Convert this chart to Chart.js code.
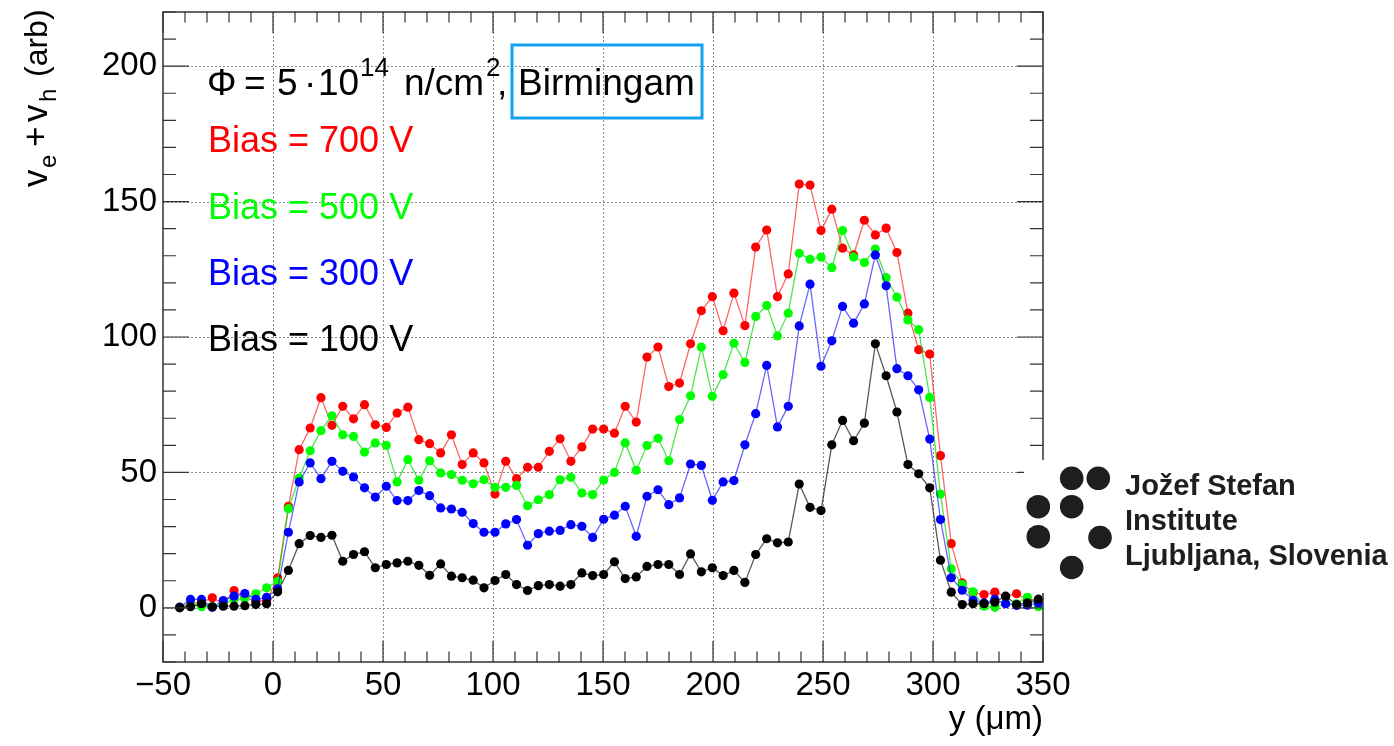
<!DOCTYPE html>
<html>
<head>
<meta charset="utf-8">
<script src="https://cdn.jsdelivr.net/npm/chart.js@4.4.1/dist/chart.umd.min.js"></script>
<style>
html,body{margin:0;padding:0;background:#fff;overflow:hidden}
canvas{display:block}
</style>
</head>
<body>
<canvas id="c" width="1394" height="746"></canvas>
<script>
// ---- data ----
const positions = [-42.4, -37.5, -32.5, -27.6, -22.6, -17.7, -12.8, -7.8, -2.9, 2.1,
  7.0, 11.9, 16.9, 21.8, 26.8, 31.7, 36.6, 41.6, 46.5, 51.5,
  56.4, 61.3, 66.3, 71.2, 76.2, 81.1, 86.0, 91.0, 95.9, 100.9,
  105.8, 110.7, 115.7, 120.6, 125.6, 130.5, 135.4, 140.4, 145.3, 150.3,
  155.2, 160.1, 165.1, 170.0, 175.0, 179.9, 184.8, 189.8, 194.7, 199.7,
  204.6, 209.5, 214.5, 219.4, 224.4, 229.3, 234.2, 239.2, 244.1, 249.1,
  254.0, 258.9, 263.9, 268.8, 273.8, 278.7, 283.6, 288.6, 293.5, 298.5,
  303.4, 308.3, 313.3, 318.2, 323.2, 328.1, 333.0, 338.0, 342.9, 347.9];

const bias700 = [0.3, 1.5, 2.0, 3.7, 1.5, 6.4, 3.9, 2.3, 2.7, 11.1,
  37.5, 58.4, 66.4, 77.6, 67.4, 74.4, 69.8, 75.0, 67.6, 66.6,
  71.9, 74.1, 62.1, 60.6, 57.2, 63.9, 52.9, 57.2, 53.5, 42.0,
  54.1, 47.7, 51.9, 51.9, 57.8, 62.4, 54.1, 59.4, 66.0, 66.0,
  64.5, 74.4, 68.6, 92.6, 96.3, 81.7, 83.0, 97.5, 109.7, 114.9,
  102.3, 116.2, 104.2, 133.2, 139.5, 114.9, 123.3, 156.5, 156.1, 139.3,
  147.2, 132.8, 130.3, 143.1, 137.7, 140.2, 131.2, 108.8, 95.3, 93.7,
  56.2, 23.7, 9.2, 5.6, 4.9, 5.8, 4.2, 5.2, 3.0, 3.0];

const bias500 = [0.2, 1.2, 0.4, 0.4, 1.2, 3.1, 3.5, 5.2, 7.4, 9.8,
  36.6, 47.9, 58.0, 65.4, 70.9, 63.9, 63.3, 57.5, 60.9, 60.0,
  46.5, 54.7, 47.1, 54.3, 49.8, 49.2, 47.1, 45.8, 47.3, 44.5,
  44.5, 45.2, 37.7, 39.9, 41.8, 47.3, 48.2, 42.4, 41.8, 47.2,
  50.0, 60.9, 50.8, 59.9, 62.6, 54.3, 69.5, 78.3, 96.3, 78.1,
  86.1, 97.7, 90.6, 107.6, 111.6, 100.4, 108.8, 130.9, 128.7, 129.5,
  125.6, 139.3, 129.5, 127.5, 132.5, 121.9, 114.7, 106.3, 102.7, 77.7,
  42.0, 14.4, 8.6, 5.9, 0.6, 0.2, 1.6, 1.5, 4.0, 0.4];

const bias300 = [0.2, 3.1, 3.1, 0.2, 2.7, 4.3, 5.3, 3.1, 3.9, 7.0,
  27.9, 46.5, 53.5, 47.7, 54.1, 50.4, 48.3, 44.3, 40.9, 44.9,
  39.6, 39.6, 43.3, 41.4, 36.9, 36.5, 35.3, 31.1, 27.9, 27.9,
  31.0, 32.6, 23.1, 27.4, 28.3, 28.6, 30.7, 30.1, 26.0, 32.7,
  34.2, 37.5, 26.4, 41.2, 43.6, 38.1, 40.6, 53.1, 52.6, 39.7,
  46.5, 47.0, 60.2, 71.7, 89.5, 66.8, 74.4, 104.1, 119.5, 89.2,
  98.6, 111.3, 105.1, 112.2, 130.3, 118.9, 88.3, 85.7, 80.5, 62.3,
  32.6, 11.1, 6.5, 2.8, 1.8, 3.1, 1.5, 0.9, 1.0, 1.8];

const bias100 = [0.0, 0.4, 1.5, 0.4, 0.6, 0.6, 0.8, 1.2, 1.5, 5.9,
  13.8, 23.7, 26.7, 26.0, 26.8, 17.2, 19.7, 20.7, 14.8, 16.0,
  16.6, 17.2, 15.7, 12.0, 16.2, 11.7, 11.1, 10.2, 7.4, 10.1,
  12.3, 8.6, 6.4, 8.2, 8.6, 8.0, 8.6, 12.9, 11.9, 12.3,
  17.0, 10.8, 11.4, 15.3, 16.0, 16.0, 12.3, 19.9, 13.3, 14.8,
  11.9, 13.8, 9.4, 19.7, 25.5, 24.0, 24.3, 45.7, 37.1, 35.9,
  60.2, 69.2, 61.7, 68.2, 97.5, 85.7, 72.3, 52.9, 49.5, 44.3,
  17.6, 5.8, 1.2, 1.5, 1.5, 2.1, 4.3, 1.2, 1.8, 3.2];

const seriesLabels = ['Bias = 100 V', 'Bias = 300 V', 'Bias = 500 V', 'Bias = 700 V'];
const xTitle = 'y (\u03bcm)';

// ---- styling ----
const FONT = '"Liberation Sans", Arial, Helvetica, sans-serif';
const seriesStyle = [
  { point: '#000000', line: 'rgba(0,0,0,0.65)' },
  { point: '#0000ff', line: 'rgba(0,0,255,0.6)' },
  { point: '#00ff00', line: 'rgba(0,220,0,0.7)' },
  { point: '#ff0000', line: 'rgba(255,0,0,0.6)' }
];
const seriesValues = [bias100, bias300, bias500, bias700];

const datasets = seriesValues.map((vals, i) => ({
  label: seriesLabels[i],
  data: positions.map((x, j) => ({ x: x, y: vals[j] })),
  showLine: true,
  borderColor: seriesStyle[i].line,
  borderWidth: 1.3,
  pointRadius: 4.6,
  pointHoverRadius: 4.6,
  pointBackgroundColor: seriesStyle[i].point,
  pointBorderColor: seriesStyle[i].point,
  pointBorderWidth: 0,
  tension: 0,
  fill: false
}));

const minus = v => (v < 0 ? '\u2212' + Math.abs(v) : String(v));

const rootStyle = {
  id: 'rootStyle',
  beforeDatasetsDraw(chart) {
    const { ctx, chartArea: a, scales: { x, y } } = chart;
    ctx.save();
    ctx.strokeStyle = '#8a8a8a';
    ctx.lineWidth = 1;
    ctx.setLineDash([2, 2]);
    x.ticks.forEach(t => {
      if (t.value <= x.min || t.value >= x.max) return;
      const px = Math.round(x.getPixelForValue(t.value)) + 0.5;
      ctx.beginPath(); ctx.moveTo(px, a.top); ctx.lineTo(px, a.bottom); ctx.stroke();
    });
    y.ticks.forEach(t => {
      if (t.value <= y.min || t.value >= y.max) return;
      const py = Math.round(y.getPixelForValue(t.value)) + 0.5;
      ctx.beginPath(); ctx.moveTo(a.left, py); ctx.lineTo(a.right, py); ctx.stroke();
    });
    ctx.restore();
  },
  afterDatasetsDraw(chart) {
    const { ctx, chartArea: a, scales: { x, y } } = chart;
    ctx.save();
    ctx.strokeStyle = '#333';
    ctx.lineWidth = 1.5;
    ctx.setLineDash([]);
    ctx.strokeRect(a.left, a.top, a.right - a.left, a.bottom - a.top);
    ctx.lineWidth = 1.2;
    for (let v = Math.ceil(y.min / 10) * 10; v <= y.max; v += 10) {
      const major = v % 50 === 0;
      const len = major ? 26 : 13;
      const py = y.getPixelForValue(v);
      ctx.beginPath();
      ctx.moveTo(a.left, py); ctx.lineTo(a.left + len, py);
      ctx.moveTo(a.right, py); ctx.lineTo(a.right - len, py);
      ctx.stroke();
    }
    for (let v = Math.ceil(x.min / 10) * 10; v <= x.max; v += 10) {
      const major = v % 50 === 0;
      const len = major ? 21 : 10.5;
      const px = x.getPixelForValue(v);
      ctx.beginPath();
      ctx.moveTo(px, a.bottom); ctx.lineTo(px, a.bottom - len);
      ctx.moveTo(px, a.top); ctx.lineTo(px, a.top + len);
      ctx.stroke();
    }
    ctx.restore();
  },
  afterDraw(chart) {
    const { ctx } = chart;
    ctx.save();
    ctx.textBaseline = 'alphabetic';
    ctx.textAlign = 'left';
    const txt = (s, x0, y0, size, color, weight) => {
      ctx.font = (weight || '') + ' ' + size + 'px ' + FONT;
      ctx.fillStyle = color || '#000';
      ctx.fillText(s, x0, y0);
    };
    // fluence line
    txt('\u03a6', 207, 95, 37);
    txt('=', 244, 95, 37);
    txt('5', 277, 95, 37);
    txt('\u00b7', 304, 95, 37);
    txt('10', 318, 95, 37);
    txt('14', 360, 76, 26);
    txt('n/cm', 404, 95, 37);
    txt('2', 486, 76, 26);
    txt(',', 497, 95, 37);
    txt('Birmingam', 518, 95, 37);
    ctx.strokeStyle = '#14a2f0';
    ctx.lineWidth = 3;
    ctx.strokeRect(512, 45, 190, 73);
    // legend texts
    txt(seriesLabels[3], 208, 152, 36, '#ff0000');
    txt(seriesLabels[2], 208, 218.5, 36, '#00ff00');
    txt(seriesLabels[1], 208, 284.5, 36, '#0000ff');
    txt(seriesLabels[0], 208, 350.5, 36, '#000000');
    // y-axis title, rotated
    ctx.save();
    ctx.translate(46.5, 187);
    ctx.rotate(-Math.PI / 2);
    txt('v', 0, 0, 35);
    txt('e', 19, 9, 24);
    txt('+', 40, 0, 35);
    txt('v', 65, 0, 35);
    txt('h', 85, 9, 24);
    txt('(arb)', 110, 0, 32);
    ctx.restore();
    // logo (drawn over the plot, white background)
    ctx.fillStyle = '#fff';
    ctx.fillRect(1024, 460, 370, 133);
    ctx.fillStyle = '#1e1e1e';
    [[1071.7, 478.3], [1098.3, 478.3], [1038.3, 506.7], [1071.7, 506.7],
     [1038.3, 536.7], [1100, 537.5], [1071.7, 567.5]].forEach(([cx, cy]) => {
      ctx.beginPath(); ctx.arc(cx, cy, 11.8, 0, Math.PI * 2); ctx.fill();
    });
    txt('Jo\u017eef Stefan', 1125, 495, 29, '#1e1e1e', 'bold');
    txt('Institute', 1125, 530, 29, '#1e1e1e', 'bold');
    txt('Ljubljana, Slovenia', 1125, 565, 29, '#1e1e1e', 'bold');
    ctx.restore();
  }
};

new Chart(document.getElementById('c'), {
  type: 'scatter',
  data: { datasets: datasets },
  options: {
    responsive: false,
    animation: false,
    events: [],
    layout: { padding: { left: 0, right: 351, top: 12, bottom: 0 } },
    plugins: { legend: { display: false }, tooltip: { enabled: false } },
    scales: {
      x: {
        type: 'linear', position: 'bottom', min: -50, max: 350,
        grid: { display: false, drawTicks: false },
        border: { display: false },
        ticks: {
          stepSize: 50, autoSkip: false, maxRotation: 0, minRotation: 0,
          padding: 4, color: '#000',
          font: { family: FONT, size: 33 },
          callback: v => minus(v)
        },
        title: {
          display: true, text: xTitle, align: 'end', color: '#000',
          font: { family: FONT, size: 33 },
          padding: { top: 0, bottom: 6 }
        },
        afterFit(s) { s.height = 84; s.paddingLeft = 0; s.paddingRight = 0; }
      },
      y: {
        type: 'linear', position: 'left', min: -20, max: 220,
        grid: { display: false, drawTicks: false },
        border: { display: false },
        ticks: {
          stepSize: 50, padding: 6, color: '#000',
          font: { family: FONT, size: 33 },
          callback: v => minus(v)
        },
        afterBuildTicks(s) { s.ticks = s.ticks.filter(t => t.value % 50 === 0); },
        afterFit(s) { s.width = 163; s.paddingTop = 0; s.paddingBottom = 0; }
      }
    }
  },
  plugins: [rootStyle]
});
</script>
</body>
</html>
